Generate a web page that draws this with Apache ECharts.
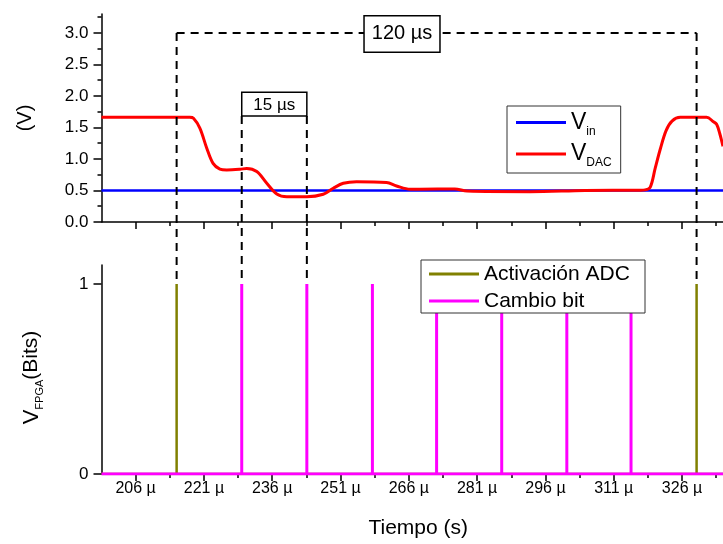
<!DOCTYPE html>
<html>
<head>
<meta charset="utf-8">
<script src="https://cdn.jsdelivr.net/npm/echarts@6/dist/echarts.min.js"></script>
<style>
html,body{margin:0;padding:0;background:#fff}
#c{width:723px;height:544px}
</style>
</head>
<body>
<div id="c"></div>
<script>
// Time axis (µs)
const X_MIN = 198.5;
const X_MAX = 335;
const xMajorTicks = [206, 221, 236, 251, 266, 281, 296, 311, 326];
const xMinorTicks = [213.5, 228.5, 243.5, 258.5, 273.5, 288.5, 303.5, 318.5, 333.5];

// Voltage axis (V)
const vTicks = [0, 0.5, 1.0, 1.5, 2.0, 2.5, 3.0];
const vMinorTicks = [0.25, 0.75, 1.25, 1.75, 2.25, 2.75, 3.25];
const bitTicks = [0, 1];

// Input voltage
const vinT = [198.5, 335];
const vinV = [0.5, 0.5];

// DAC output voltage
const dacT = [198.5, 215.0, 217.9, 218.7, 220.1, 221.6, 223.0, 224.5, 226.0, 228.9,
              230.4, 232.6, 234.8, 237.0, 239.2, 243.6, 247.2, 249.4, 251.6, 254.5,
              261.1, 263.3, 266.3, 268.4, 276.1, 278.8, 292.6, 304.7, 316.8, 317.9,
              319.0, 320.1, 321.2, 322.5, 323.8, 325.6, 331.4, 332.9, 333.6, 334.3, 335.0];
const dacV = [1.66, 1.66, 1.66, 1.645, 1.49, 1.175, 0.93, 0.84, 0.825, 0.836,
              0.85, 0.80, 0.614, 0.444, 0.40, 0.40, 0.44, 0.535, 0.614, 0.64,
              0.625, 0.571, 0.52, 0.52, 0.524, 0.49, 0.48, 0.50, 0.505, 0.51,
              0.55, 0.85, 1.15, 1.45, 1.60, 1.66, 1.66, 1.59, 1.55, 1.40, 1.20];

// FPGA digital events (µs)
const adcTimes = [215.0, 329.2];
const bitTimes = [229.3, 243.6, 258.0, 272.1, 286.4, 300.7, 314.8];
const pulseHigh = 1;

const FONT = 'Liberation Sans, Arial, sans-serif';
const BLACK = '#000';

function zip(a, b) { return a.map((v, i) => [v, b[i]]); }
function pulseTrain(times) {
  const d = [[X_MIN, 0]];
  times.forEach(t => { d.push([t, 0], [t, pulseHigh], [t, 0]); });
  d.push([X_MAX, 0]);
  return d;
}

function xAxes(grid, withLabels) {
  return [
    {
      type: 'value', gridIndex: grid, min: X_MIN, max: X_MAX, position: 'bottom',
      axisLine: { show: true, onZero: false, lineStyle: { color: BLACK, width: 1.5 } },
      axisTick: { show: true, customValues: xMajorTicks, length: 7, lineStyle: { color: BLACK, width: 1.5 } },
      axisLabel: { show: withLabels, customValues: xMajorTicks, formatter: v => v + ' µ',
                   margin: 7, fontSize: 16, color: BLACK, fontFamily: FONT },
      splitLine: { show: false },
      name: withLabels ? 'Tiempo (s)' : '',
      nameLocation: 'middle', nameGap: 44,
      nameTextStyle: { fontSize: 21, color: BLACK, fontFamily: FONT, padding: [0, 0, 0, 12] }
    },
    {
      type: 'value', gridIndex: grid, min: X_MIN, max: X_MAX, position: 'bottom',
      axisLine: { show: false },
      axisTick: { show: true, customValues: xMinorTicks, length: 4, lineStyle: { color: BLACK, width: 1.5 } },
      axisLabel: { show: false },
      splitLine: { show: false }
    }
  ];
}

const chart = echarts.init(document.getElementById('c'), null, { renderer: 'canvas' });

chart.setOption({
  animation: false,
  backgroundColor: '#fff',
  grid: [
    { left: 101.5, right: 0, top: 14, height: 208 },
    { left: 101.5, right: 0, top: 265, height: 209 }
  ],
  xAxis: [...xAxes(0, false), ...xAxes(1, true)],
  yAxis: [
    {
      type: 'value', gridIndex: 0, min: 0, max: 3.3, position: 'left',
      axisLine: { show: true, lineStyle: { color: BLACK, width: 1.5 } },
      axisTick: { show: true, customValues: vTicks, length: 8, lineStyle: { color: BLACK, width: 1.5 } },
      axisLabel: { customValues: vTicks, formatter: v => v.toFixed(1), margin: 13,
                   fontSize: 17, color: BLACK, fontFamily: FONT },
      splitLine: { show: false },
      name: '(V)', nameLocation: 'middle', nameGap: 66,
      nameTextStyle: { fontSize: 20, color: BLACK, fontFamily: FONT }
    },
    {
      type: 'value', gridIndex: 0, min: 0, max: 3.3, position: 'left',
      axisLine: { show: false },
      axisTick: { show: true, customValues: vMinorTicks, length: 4, lineStyle: { color: BLACK, width: 1.5 } },
      axisLabel: { show: false },
      splitLine: { show: false }
    },
    {
      type: 'value', gridIndex: 1, min: 0, max: 1.1, position: 'left',
      axisLine: { show: true, lineStyle: { color: BLACK, width: 1.5 } },
      axisTick: { show: true, customValues: bitTicks, length: 8, lineStyle: { color: BLACK, width: 1.5 } },
      axisLabel: { customValues: bitTicks, margin: 13, fontSize: 17, color: BLACK, fontFamily: FONT },
      splitLine: { show: false },
      name: '{v|V}{s|FPGA}{b|(Bits)}', nameLocation: 'middle', nameGap: 56,
      nameTextStyle: {
        color: BLACK, fontFamily: FONT, padding: [0, 16, 0, 0],
        rich: {
          v: { fontSize: 22, fontFamily: FONT, color: BLACK, lineHeight: 28, verticalAlign: 'middle' },
          s: { fontSize: 11, fontFamily: FONT, color: BLACK, lineHeight: 12, verticalAlign: 'bottom' },
          b: { fontSize: 21, fontFamily: FONT, color: BLACK, lineHeight: 28, verticalAlign: 'middle' }
        }
      }
    },
    {
      type: 'value', gridIndex: 1, min: 0, max: 1.1, position: 'left',
      axisLine: { show: false }, axisTick: { show: false },
      axisLabel: { show: false }, splitLine: { show: false }
    }
  ],
  legend: [
    {
      data: ['Vin', 'VDAC'], orient: 'vertical', left: 507, top: 106, z: 20,
      padding: [5, 9, 4, 9], itemGap: 5, itemWidth: 50, itemHeight: 3, icon: 'rect',
      borderColor: '#333', borderWidth: 1, backgroundColor: '#fff',
      formatter: name => name === 'Vin' ? '{v|V}{s|in}' : '{v|V}{s|DAC}',
      textStyle: {
        color: BLACK, fontFamily: FONT,
        rich: {
          v: { fontSize: 23, fontFamily: FONT, color: BLACK, lineHeight: 30, verticalAlign: 'middle' },
          s: { fontSize: 12, fontFamily: FONT, color: BLACK, lineHeight: 12, verticalAlign: 'bottom' }
        }
      }
    },
    {
      data: ['Activación ADC', 'Cambio bit'], orient: 'vertical', left: 421, top: 260, z: 20,
      padding: [3, 9, 1, 8], itemGap: 5, itemWidth: 50, itemHeight: 3, icon: 'rect',
      borderColor: '#333', borderWidth: 1, backgroundColor: '#fff',
      textStyle: { fontSize: 21, lineHeight: 22, color: BLACK, fontFamily: FONT, width: 152 }
    }
  ],
  series: [
    {
      name: 'Vin', type: 'line', xAxisIndex: 0, yAxisIndex: 0, symbol: 'none',
      data: zip(vinT, vinV), color: '#0000ff', lineStyle: { width: 2.5, color: '#0000ff' }, z: 3
    },
    {
      name: 'VDAC', type: 'line', xAxisIndex: 0, yAxisIndex: 0, symbol: 'none',
      smooth: 0.35, data: zip(dacT, dacV), color: '#ff0000', lineStyle: { width: 3, color: '#ff0000' }, z: 4
    },
    {
      name: 'Activación ADC', type: 'line', xAxisIndex: 2, yAxisIndex: 2, symbol: 'none',
      data: pulseTrain(adcTimes), color: '#808000', lineStyle: { width: 2.5, color: '#808000' }, z: 3
    },
    {
      name: 'Cambio bit', type: 'line', xAxisIndex: 2, yAxisIndex: 2, symbol: 'none',
      data: pulseTrain(bitTimes), color: '#ff00ff', lineStyle: { width: 3, color: '#ff00ff' }, z: 4
    }
  ]
});

// Timing annotations: dashed brackets and their duration boxes
const topPx = (t, v) => chart.convertToPixel({ xAxisIndex: 0, yAxisIndex: 0 }, [t, v]);
const botPx = (t, v) => chart.convertToPixel({ xAxisIndex: 2, yAxisIndex: 2 }, [t, v]);
const dash = { stroke: BLACK, lineWidth: 2, lineDash: [8, 6] };

const longTop = 3.0;            // level of the full-cycle bracket (V)
const longLabelT = 264.5;       // centre of the "120 µs" label (µs)
const shortBox = [1.68, 2.06];  // vertical extent of the "15 µs" box (V)

const elements = [];
function vDash(t, vTop) {
  const a = topPx(t, vTop), b = botPx(t, pulseHigh);
  elements.push({ type: 'line', z: 5, shape: { x1: a[0], y1: a[1], x2: b[0], y2: b[1] }, style: dash });
}
adcTimes.forEach(t => vDash(t, longTop));
vDash(bitTimes[0], shortBox[0]);
vDash(bitTimes[1], shortBox[0]);

const l0 = topPx(adcTimes[0], longTop), l1 = topPx(adcTimes[1], longTop);
elements.push({ type: 'line', z: 5, shape: { x1: l0[0], y1: l0[1], x2: l1[0], y2: l1[1] }, style: dash });

const lc = topPx(longLabelT, longTop);
elements.push({
  type: 'text', z: 10, x: lc[0], y: lc[1] + 1,
  style: {
    text: '120 µs', font: '20px ' + FONT, fill: BLACK, align: 'center', verticalAlign: 'middle',
    backgroundColor: '#fff', borderColor: BLACK, borderWidth: 1.5, padding: [8, 7, 7, 7]
  }
});

const s0 = topPx(bitTimes[0], shortBox[1]), s1 = topPx(bitTimes[1], shortBox[0]);
elements.push({
  type: 'rect', z: 10,
  shape: { x: s0[0], y: s0[1], width: s1[0] - s0[0], height: s1[1] - s0[1] },
  style: { fill: '#fff', stroke: BLACK, lineWidth: 1.5 }
});
elements.push({
  type: 'text', z: 11, x: (s0[0] + s1[0]) / 2, y: (s0[1] + s1[1]) / 2 + 1,
  style: { text: '15 µs', font: '17px ' + FONT, fill: BLACK, align: 'center', verticalAlign: 'middle' }
});

chart.setOption({ graphic: elements });
</script>
</body>
</html>
